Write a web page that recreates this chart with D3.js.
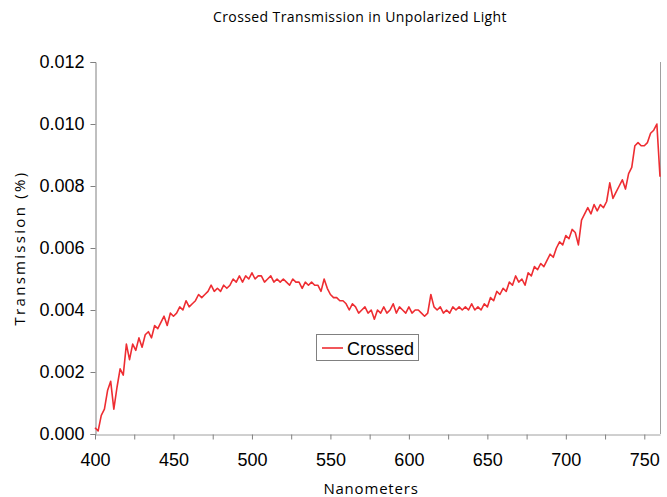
<!DOCTYPE html>
<html><head><meta charset="utf-8">
<script src="https://cdn.jsdelivr.net/npm/d3@7"></script>
<style>body{margin:0;background:#fff}</style>
</head><body><svg id="c" width="667" height="497"></svg>
<script>
const title = "Crossed Transmission in Unpolarized Light";
const xTitle = "Nanometers";
const yTitle = "Transmission (%)";
const seriesName = "Crossed";
const xStart = 400, xStep = 2;
const transmission = [
0.0002,0.0001,0.0006,0.0008,0.0014,0.0017,0.0008,0.0015,0.0021,0.0019,
0.0029,0.0024,0.0029,0.0027,0.0031,0.0028,0.0032,0.0033,0.0031,0.0035,
0.0034,0.0036,0.0038,0.0035,0.0039,0.0038,0.0039,0.0041,0.0040,0.0043,
0.0041,0.0042,0.0043,0.0045,0.0044,0.0045,0.0046,0.0048,0.0046,0.0047,
0.0046,0.0048,0.0047,0.0048,0.0050,0.0049,0.0051,0.0049,0.0051,0.0050,
0.0052,0.0050,0.0051,0.0051,0.0049,0.0050,0.0051,0.0049,0.0050,0.0049,
0.0050,0.0049,0.0048,0.0050,0.0049,0.0049,0.0047,0.0049,0.0048,0.0049,
0.0048,0.0048,0.0046,0.0050,0.0047,0.0045,0.0044,0.0044,0.0043,0.0043,
0.0042,0.0040,0.0042,0.0041,0.0039,0.0040,0.0041,0.0039,0.0040,0.0037,
0.0040,0.0039,0.0041,0.0039,0.0040,0.0042,0.0039,0.0041,0.0040,0.0039,
0.0041,0.0039,0.0040,0.0040,0.0039,0.0038,0.0039,0.0045,0.0041,0.0040,
0.0041,0.0039,0.0040,0.0039,0.0041,0.0040,0.0041,0.0040,0.0041,0.0040,
0.0042,0.0040,0.0041,0.0040,0.0042,0.0041,0.0044,0.0043,0.0046,0.0045,
0.0047,0.0046,0.0049,0.0048,0.0051,0.0049,0.0050,0.0048,0.0052,0.0051,
0.0054,0.0053,0.0055,0.0054,0.0056,0.0058,0.0057,0.0060,0.0062,0.0061,
0.0064,0.0063,0.0066,0.0065,0.0061,0.0069,0.0071,0.0073,0.0071,0.0074,
0.0072,0.0074,0.0073,0.0075,0.0081,0.0076,0.0078,0.0080,0.0082,0.0079,
0.0084,0.0086,0.0093,0.0094,0.0093,0.0093,0.0094,0.0097,0.0098,0.0100,
0.0083];
const xTickValues = [400,450,500,550,600,650,700,750];
const xMinorTicks = [400,425,450,475,500,525,550,575,600,625,650,675,700,725,750];
const yTickValues = [0,0.002,0.004,0.006,0.008,0.010,0.012];

const data = transmission.map((v,i)=>({x:xStart+i*xStep, y:v}));
const svg = d3.select("#c");
const L=95, R=660, T=62, B=434;
const x = d3.scaleLinear().domain([400,760]).range([L,R]);
const y = d3.scaleLinear().domain([0,0.012]).range([B,T]);

svg.append("line").attr("x1",R+0.5).attr("x2",R+0.5).attr("y1",T).attr("y2",B).attr("stroke","#a0a0a0");

const tickFont = "Liberation Sans, Arial, sans-serif";
const yAxis = svg.append("g").attr("transform",`translate(${L+0.5},0)`)
  .call(d3.axisLeft(y).tickValues(yTickValues).tickFormat(d3.format(".3f")).tickSize(5).tickPadding(6));
yAxis.select(".domain").attr("stroke","#808080");
yAxis.selectAll(".tick line").attr("stroke","#808080");
yAxis.selectAll("text").attr("font-family",tickFont).attr("font-size","18px").attr("fill","#000");

const xAxis = svg.append("g").attr("transform",`translate(0,${B+0.5})`)
  .call(d3.axisBottom(x).tickValues(xMinorTicks).tickFormat(d=>xTickValues.includes(d)?d:"").tickSize(5).tickPadding(14).tickSizeOuter(0));
xAxis.select(".domain").attr("stroke","#a0a0a0");
xAxis.selectAll(".tick line").attr("stroke","#808080");
xAxis.selectAll("text").attr("font-family",tickFont).attr("font-size","18px").attr("fill","#000");

const line = d3.line().x(d=>x(d.x)).y(d=>y(d.y));
svg.append("path").datum(data).attr("d",line).attr("fill","none").attr("stroke","#ee2d32").attr("stroke-width",1.6).attr("stroke-linejoin","round");

svg.append("text").attr("x",360).attr("y",22).attr("text-anchor","middle")
  .attr("font-family","Open Sans, sans-serif").attr("font-size","14px").attr("letter-spacing","0.4px").text(title);
svg.append("text").attr("x",371).attr("y",494).attr("text-anchor","middle")
  .attr("font-family","Open Sans, sans-serif").attr("font-size","15px").attr("letter-spacing","0.8px").text(xTitle);
svg.append("text").attr("transform","translate(25,248) rotate(-90)").attr("text-anchor","middle")
  .attr("font-family","Open Sans, sans-serif").attr("font-size","15px").attr("letter-spacing","2.3px").text(yTitle);

const lg = svg.append("g");
lg.append("rect").attr("x",316.5).attr("y",334.5).attr("width",102).attr("height",26).attr("fill","#fff").attr("stroke","#808080");
lg.append("line").attr("x1",322).attr("x2",343).attr("y1",348).attr("y2",348).attr("stroke","#ee2d32").attr("stroke-width",1.6);
lg.append("text").attr("x",347).attr("y",355).attr("font-family",tickFont).attr("font-size","18px").text(seriesName);
</script></body></html>
